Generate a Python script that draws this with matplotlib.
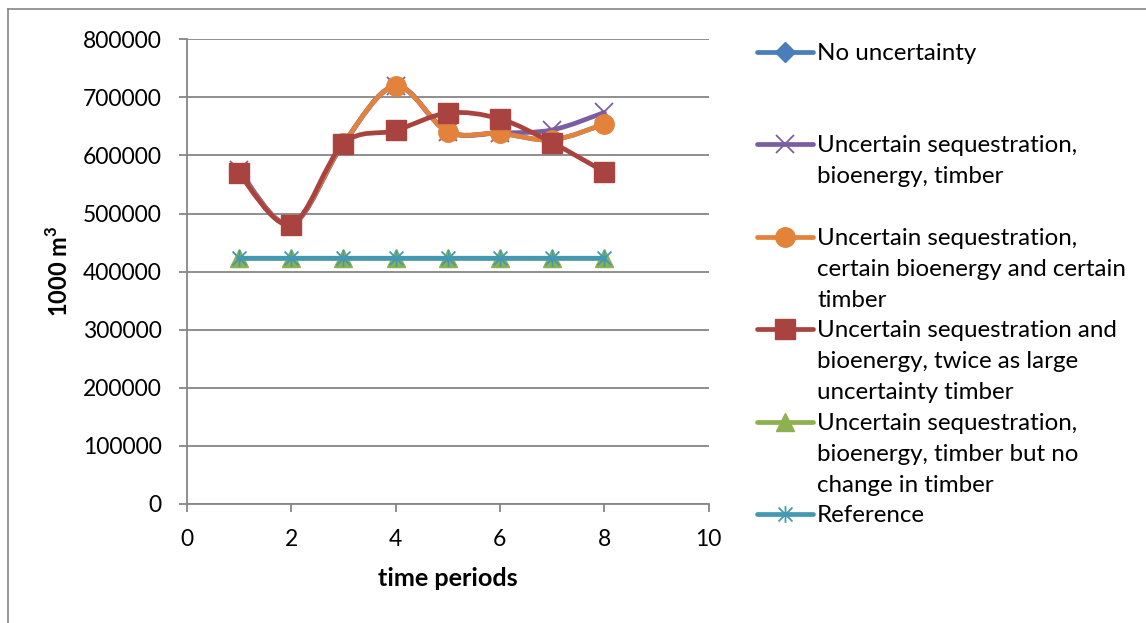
import matplotlib
matplotlib.use("Agg")
import matplotlib.pyplot as plt
from matplotlib.path import Path
from matplotlib.patches import PathPatch
from matplotlib.lines import Line2D
from matplotlib.markers import MarkerStyle

plt.rcParams["font.family"] = ["Lato", "DejaVu Sans"]
plt.rcParams["mathtext.fontset"] = "custom"
plt.rcParams["mathtext.rm"] = "Lato"
plt.rcParams["mathtext.bf"] = "Lato:bold"

# --- data ---
periods = [1, 2, 3, 4, 5, 6, 7, 8]
no_uncertainty = [570000, 482000, 621000, 719000, 641000, 638000, 627000, 654000]
uncertain_all = [575000, 481000, 620000, 720000, 641000, 639000, 644000, 674000]
uncertain_seq_only = [570000, 482000, 621000, 719000, 641000, 638000, 627000, 654000]
twice_timber = [569000, 481000, 620000, 643000, 673000, 663000, 622000, 572000]
no_change_timber = [423000, 423000, 423000, 423000, 423000, 423000, 423000, 423000]
reference = [423000, 423000, 423000, 423000, 423000, 423000, 423000, 423000]

labels = [
    ["No uncertainty"],
    ["Uncertain sequestration,", "bioenergy, timber"],
    ["Uncertain sequestration,", "certain bioenergy and certain", "timber"],
    ["Uncertain sequestration and", "bioenergy, twice as large", "uncertainty timber"],
    ["Uncertain sequestration,", "bioenergy, timber but no", "change in timber"],
    ["Reference"],
]

W, H = 1146, 623

# excel-style "star": an x with a vertical bar
star = Path(
    [(-1, -1), (1, 1), (-1, 1), (1, -1), (0, -1.2), (0, 1.2)],
    [Path.MOVETO, Path.LINETO, Path.MOVETO, Path.LINETO, Path.MOVETO, Path.LINETO],
)

styles = [
    dict(color="#4A7EBB", marker="D", ms=8.5, leg_ms=10.5, mew=1, filled=True),
    dict(color="#7B5EA1", marker="x", ms=13, leg_ms=13, mew=1.3, filled=False),
    dict(color="#E3823B", marker="o", ms=14, leg_ms=14, mew=1, filled=True),
    dict(color="#A9433F", marker="s", ms=14.5, leg_ms=14.5, mew=1, filled=True),
    dict(color="#8EB14F", marker="^", ms=13, leg_ms=13, mew=1, filled=True),
    dict(color="#4299B1", marker=MarkerStyle(star), ms=12, leg_ms=12, mew=1.3, filled=False),
]
series = [no_uncertainty, uncertain_all, uncertain_seq_only, twice_timber, no_change_timber, reference]


def smooth_path(xs, ys):
    # cubic bezier through the points, like Excel's smoothed line
    pts = list(zip(xs, ys))
    n = len(pts)
    verts = [pts[0]]
    codes = [Path.MOVETO]
    for i in range(n - 1):
        p0 = pts[i - 1] if i > 0 else pts[i]
        p1 = pts[i]
        p2 = pts[i + 1]
        p3 = pts[i + 2] if i + 2 < n else pts[i + 1]
        c1 = (p1[0] + (p2[0] - p0[0]) / 6, p1[1] + (p2[1] - p0[1]) / 6)
        c2 = (p2[0] - (p3[0] - p1[0]) / 6, p2[1] - (p3[1] - p1[1]) / 6)
        verts += [c1, c2, p2]
        codes += [Path.CURVE4] * 3
    return Path(verts, codes)


fig = plt.figure(figsize=(W / 100, H / 100), dpi=100)
ax = fig.add_axes([186.7 / W, 1 - 504 / H, 522 / W, 464.7 / H])

grid_color = "#868686"
fs = 16.5
legend_fs = 17.4

for k, (vals, st) in enumerate(zip(series, styles)):
    z = 3 + k
    patch = PathPatch(smooth_path(periods, vals), fill=False, edgecolor=st["color"],
                      lw=3.4, capstyle="round", joinstyle="round", zorder=z)
    ax.add_patch(patch)
    ax.plot(periods, vals, linestyle="none", marker=st["marker"], ms=st["ms"],
            mfc=st["color"] if st["filled"] else "none", mec=st["color"],
            mew=st["mew"], zorder=z + 0.5)

ax.set_xlim(0, 10)
ax.set_ylim(0, 800000)
ax.set_xticks([0, 2, 4, 6, 8, 10])
ax.set_yticks(range(0, 800001, 100000))
ax.yaxis.grid(True, color=grid_color, lw=1.3)
ax.set_axisbelow(True)
for side in ("top", "right"):
    ax.spines[side].set_visible(False)
for side in ("left", "bottom"):
    ax.spines[side].set_color(grid_color)
    ax.spines[side].set_linewidth(1.3)
ax.tick_params(axis="both", direction="out", length=6, width=1.3, color=grid_color,
               labelsize=fs, pad=12)
ax.set_xlabel("time periods", fontsize=18.2, fontweight="bold", labelpad=12)
ax.set_ylabel(r"1000 m$^\mathbf{3}$", fontsize=17, fontweight="bold", labelpad=8)

# manual legend on the right
slot_y = [52, 144, 237, 329, 422, 514]
line_pitch = 31
for st, lines, yc in zip(styles, labels, slot_y):
    yf = 1 - yc / H
    fig.add_artist(Line2D([757 / W, 813 / W], [yf, yf], color=st["color"], lw=3.4,
                          solid_capstyle="round"))
    fig.add_artist(Line2D([785 / W], [yf], linestyle="none", marker=st["marker"],
                          ms=st["leg_ms"], mfc=st["color"] if st["filled"] else "none",
                          mec=st["color"], mew=st["mew"]))
    for j, txt in enumerate(lines):
        fig.text(817 / W, 1 - (yc + 8 + j * line_pitch) / H, txt, fontsize=legend_fs,
                 va="baseline", ha="left", color="black")

# chart area border
fig.add_artist(Line2D([7.5 / W, 7.5 / W], [1 - 9 / H, 0], color=grid_color, lw=1.2))
fig.add_artist(Line2D([7.5 / W, 1], [1 - 9 / H, 1 - 9 / H], color=grid_color, lw=1.2))

fig.savefig("out.png", dpi=100)
